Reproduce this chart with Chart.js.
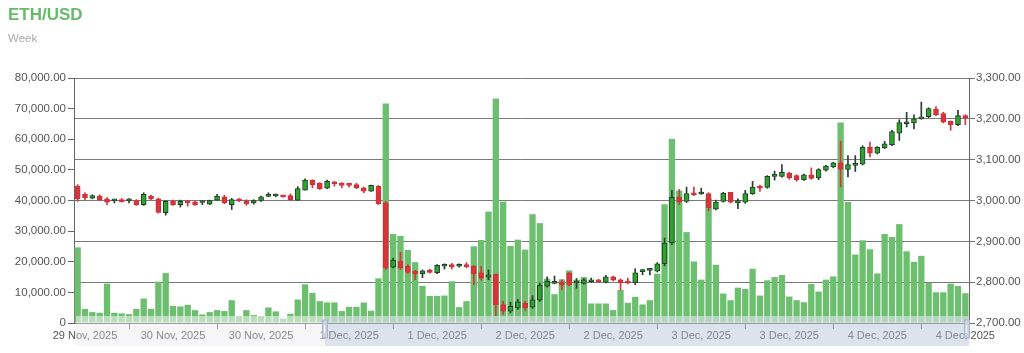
<!DOCTYPE html>
<html>
<head>
<meta charset="utf-8">
<script src="https://cdn.jsdelivr.net/npm/chart.js@4.4.1/dist/chart.umd.min.js"></script>
<style>
  html, body { margin: 0; padding: 0; background: #ffffff; }
  #wrap { position: relative; width: 1024px; height: 353px; overflow: hidden; }
  #c { position: absolute; left: 0; top: 0; }
  #title { position: absolute; left: 8px; top: 5px; font: bold 17px "Liberation Sans", Arial, sans-serif; line-height: 20px; color: #66bb6a; }
  #sub { position: absolute; left: 8px; top: 32px; font: 11.5px "Liberation Sans", Arial, sans-serif; line-height: 13px; color: #aaaaaa; }
</style>
</head>
<body>
<div id="wrap">
  <canvas id="c" width="1024" height="353"></canvas>
  <div id="title">ETH/USD</div>
  <div id="sub">Week</div>
</div>
<script>
// ---- categories (hourly candles) ----
const categories = [
  "29 Nov 17:00","29 Nov 18:00","29 Nov 19:00","29 Nov 20:00","29 Nov 21:00","29 Nov 22:00","29 Nov 23:00",
  "30 Nov 00:00","30 Nov 01:00","30 Nov 02:00","30 Nov 03:00","30 Nov 04:00","30 Nov 05:00","30 Nov 06:00","30 Nov 07:00","30 Nov 08:00","30 Nov 09:00","30 Nov 10:00","30 Nov 11:00",
  "30 Nov 12:00","30 Nov 13:00","30 Nov 14:00","30 Nov 15:00","30 Nov 16:00","30 Nov 17:00","30 Nov 18:00","30 Nov 19:00","30 Nov 20:00","30 Nov 21:00","30 Nov 22:00","30 Nov 23:00",
  "1 Dec 00:00","1 Dec 01:00","1 Dec 02:00","1 Dec 03:00","1 Dec 04:00","1 Dec 05:00","1 Dec 06:00","1 Dec 07:00","1 Dec 08:00","1 Dec 09:00","1 Dec 10:00","1 Dec 11:00",
  "1 Dec 12:00","1 Dec 13:00","1 Dec 14:00","1 Dec 15:00","1 Dec 16:00","1 Dec 17:00","1 Dec 18:00","1 Dec 19:00","1 Dec 20:00","1 Dec 21:00","1 Dec 22:00","1 Dec 23:00",
  "2 Dec 00:00","2 Dec 01:00","2 Dec 02:00","2 Dec 03:00","2 Dec 04:00","2 Dec 05:00","2 Dec 06:00","2 Dec 07:00","2 Dec 08:00","2 Dec 09:00","2 Dec 10:00","2 Dec 11:00",
  "2 Dec 12:00","2 Dec 13:00","2 Dec 14:00","2 Dec 15:00","2 Dec 16:00","2 Dec 17:00","2 Dec 18:00","2 Dec 19:00","2 Dec 20:00","2 Dec 21:00","2 Dec 22:00","2 Dec 23:00",
  "3 Dec 00:00","3 Dec 01:00","3 Dec 02:00","3 Dec 03:00","3 Dec 04:00","3 Dec 05:00","3 Dec 06:00","3 Dec 07:00","3 Dec 08:00","3 Dec 09:00","3 Dec 10:00","3 Dec 11:00",
  "3 Dec 12:00","3 Dec 13:00","3 Dec 14:00","3 Dec 15:00","3 Dec 16:00","3 Dec 17:00","3 Dec 18:00","3 Dec 19:00","3 Dec 20:00","3 Dec 21:00","3 Dec 22:00","3 Dec 23:00",
  "4 Dec 00:00","4 Dec 01:00","4 Dec 02:00","4 Dec 03:00","4 Dec 04:00","4 Dec 05:00","4 Dec 06:00","4 Dec 07:00","4 Dec 08:00","4 Dec 09:00","4 Dec 10:00","4 Dec 11:00",
  "4 Dec 12:00","4 Dec 13:00","4 Dec 14:00","4 Dec 15:00","4 Dec 16:00","4 Dec 17:00","4 Dec 18:00"
];

// ---- x-axis tick labels and tick marks ----
const xTickAt = ["29 Nov 18:00","30 Nov 06:00","30 Nov 18:00","1 Dec 06:00","1 Dec 18:00","2 Dec 06:00","2 Dec 18:00","3 Dec 06:00","3 Dec 18:00","4 Dec 06:00","4 Dec 18:00"];
const xTickLabels = ["29 Nov, 2025","30 Nov, 2025","30 Nov, 2025","1 Dec, 2025","1 Dec, 2025","2 Dec, 2025","2 Dec, 2025","3 Dec, 2025","3 Dec, 2025","4 Dec, 2025","4 Dec, 2025"];
const tickMarkAt = ["30 Nov 00:00","30 Nov 12:00","1 Dec 00:00","1 Dec 12:00","2 Dec 00:00","2 Dec 12:00","3 Dec 00:00","3 Dec 12:00","4 Dec 00:00","4 Dec 12:00"];

// ---- series: volume ----
const volume = [
  24700,4600,3560,3340,12850,3340,3130,2900,4600,8000,4600,13500,16300,5600,5400,5940,4210,2800,3560,4210,
  3890,7450,2270,4210,2590,2270,5070,3780,1400,3020,7670,12630,9820,7130,6700,6700,3890,5290,5290,6700,
  4000,14580,71680,29050,28400,23860,19860,12090,8850,8850,8960,13600,5180,7130,25050,27100,36380,73300,39620,25160,
  27210,23970,35530,32600,14470,9390,14250,17170,14150,15000,6370,6370,6370,4210,10790,6590,8530,6050,7450,16090,
  38760,60140,43300,29690,20080,14150,40700,19010,9610,7450,11550,11120,17710,8960,13930,15000,15650,8640,7450,6800,
  12740,10260,14150,15220,65430,39510,22350,26990,24080,16190,29050,28080,32290,23420,19970,21920,13050,10040,10040,12850,
  12090,9720
];

// ---- series: price (open / high / low / close) ----
const opens = [
  3035,3015,3006,3011,3004,2999,3002,2999,3000,2990,3011,3004,2970,2998,2990,2998,2997,2995,2991,3001,
  3009,2990,3003,2999,2994,3000,3010,3011,3011,3012,3001,3025,3050,3042,3030,3046,3042,3039,3039,3031,
  3023,3035,2994,2837,2851,2839,2827,2821,2829,2823,2839,2841,2839,2843,2839,2823,2812,2819,2745,2729,
  2737,2749,2739,2756,2790,2797,2801,2822,2798,2797,2801,2806,2800,2813,2806,2802,2798,2826,2829,2827,
  2845,2896,3008,2998,3018,3016,3017,2979,2998,3020,2994,2996,3017,3035,3032,3059,3059,3067,3061,3051,
  3063,3055,3074,3082,3092,3076,3086,3089,3130,3116,3129,3137,3165,3188,3190,3200,3205,3224,3213,3194,
  3186,3208
];
const highs = [
  3039,3019,3014,3014,3007,3003,3005,3005,3002,3019,3013,3006,3000,3001,3001,3000,2999,2998,3001,3015,
  3013,3005,3005,3002,3002,3011,3019,3016,3012,3016,3034,3053,3051,3044,3050,3047,3044,3040,3042,3033,
  3038,3037,2998,2859,2873,2843,2829,2830,2832,2843,2845,2846,2845,2848,2841,2839,2830,2820,2753,2751,
  2758,2753,2767,2798,2813,2815,2806,2824,2809,2809,2810,2807,2817,2815,2808,2810,2833,2831,2831,2848,
  2908,3025,3027,3033,3033,3030,3019,3001,3020,3020,3004,3025,3047,3038,3061,3072,3088,3069,3063,3065,
  3080,3078,3086,3094,3145,3110,3110,3134,3143,3132,3145,3172,3198,3216,3210,3241,3227,3230,3216,3195,
  3221,3210
];
const lows = [
  2998,3001,3004,3000,2990,2994,2996,2994,2988,2988,3002,2969,2964,2988,2984,2986,2988,2990,2990,3000,
  2992,2978,2997,2988,2991,2998,3009,3009,3008,3000,3000,3025,3031,3027,3029,3035,3031,3033,3029,3019,
  3022,2990,2831,2835,2831,2821,2806,2811,2822,2821,2832,2832,2837,2835,2794,2805,2806,2718,2721,2725,
  2733,2731,2736,2753,2788,2796,2781,2791,2785,2795,2800,2800,2798,2803,2781,2796,2794,2818,2818,2825,
  2840,2892,2990,2995,3012,3015,2975,2977,2996,2994,2980,2993,3015,3022,3030,3050,3057,3052,3047,3049,
  3052,3051,3072,3080,3033,3058,3071,3087,3107,3114,3127,3134,3147,3180,3175,3199,3203,3208,3190,3172,
  3183,3186
];
const closes = [
  3004,3007,3012,3002,2996,3001,2997,3000,2990,3015,3004,2971,2998,2990,2998,2994,2989,2996,3000,3011,
  2994,3002,2999,2992,3000,3009,3011,3012,3009,3002,3029,3050,3039,3029,3047,3041,3037,3037,3031,3023,
  3037,2992,2834,2854,2835,2824,2821,2828,2824,2841,2842,2838,2841,2838,2820,2810,2818,2745,2729,2741,
  2752,2737,2757,2792,2802,2800,2794,2793,2802,2806,2802,2801,2813,2805,2798,2798,2823,2828,2830,2845,
  2896,3008,2996,3017,3014,3017,2982,2996,3018,2996,3000,3017,3033,3030,3059,3061,3069,3055,3051,3063,
  3054,3076,3084,3092,3077,3088,3089,3131,3116,3130,3139,3169,3191,3191,3200,3205,3225,3210,3192,3186,
  3208,3202
];

// ---- styles ----
const VOL_COLOR = '#6cbf6e';
const UP_FILL = '#2ea22e', UP_LINE = '#1f3f24';
const DOWN_FILL = '#d8343c', DOWN_LINE = '#cf2f37';
const isUp = i => closes[i] >= opens[i];

const scrollbar = {
  id: 'scrollbar',
  afterDraw(chart) {
    const c = chart.ctx, a = chart.chartArea;
    const top = a.bottom - 7, h = 30, selX = 325;
    c.save();
    c.fillStyle = 'rgba(228,230,234,0.35)';
    c.fillRect(a.left + 2, top, selX - a.left - 2, h);
    c.fillStyle = 'rgba(180,192,214,0.45)';
    c.fillRect(selX, top, a.right - selX, h);
    c.fillStyle = 'rgba(255,255,255,0.35)';
    c.fillRect(a.left + 2, top, a.right - a.left - 2, 7);
    // grips
    [selX, a.right - 2].forEach(x => {
      c.fillStyle = '#c9d1e2';
      c.strokeStyle = '#a9b3c8';
      c.lineWidth = 1;
      c.beginPath();
      c.rect(x - 2.5, a.bottom - 3, 5, 18);
      c.fill(); c.stroke();
      c.strokeStyle = '#ffffff';
      c.beginPath();
      c.moveTo(x - 0.5, a.bottom + 2); c.lineTo(x - 0.5, a.bottom + 10);
      c.stroke();
    });
    c.restore();
  }
};

const fmt = v => Number(v).toLocaleString('en-US', { minimumFractionDigits: 2, maximumFractionDigits: 2 });
const FONT = { family: '"Liberation Sans", Arial, sans-serif', size: 11.5 };

new Chart(document.getElementById('c'), {
  type: 'bar',
  data: {
    labels: categories,
    datasets: [
      {
        label: 'Volume', data: volume, yAxisID: 'y',
        backgroundColor: VOL_COLOR, borderWidth: 0,
        barPercentage: 0.86, categoryPercentage: 1, grouped: false, order: 3
      },
      {
        label: 'Wick', data: lows.map((l, i) => [l, highs[i]]), yAxisID: 'y1',
        backgroundColor: ctx => isUp(ctx.dataIndex) ? '#2b3b33' : DOWN_FILL,
        borderWidth: 0, barThickness: 1, grouped: false, order: 2
      },
      {
        label: 'Body', data: opens.map((o, i) => [o, closes[i]]), yAxisID: 'y1',
        backgroundColor: ctx => isUp(ctx.dataIndex) ? UP_FILL : DOWN_FILL,
        borderColor: ctx => isUp(ctx.dataIndex) ? UP_LINE : DOWN_LINE,
        borderWidth: 1, borderSkipped: false, barThickness: 5, minBarLength: 2,
        grouped: false, order: 1
      }
    ]
  },
  options: {
    responsive: false,
    animation: false,
    devicePixelRatio: 1,
    layout: { padding: { top: 78, left: 0, right: 0, bottom: 0 } },
    plugins: { legend: { display: false }, tooltip: { enabled: false }, title: { display: false } },
    scales: {
      x: {
        type: 'category', offset: true,
        afterFit: s => { s.height = 30; },
        border: { display: false },
        grid: {
          display: true, drawOnChartArea: false, drawTicks: true, tickLength: 6, offset: false,
          color: ctx => tickMarkAt.includes(categories[ctx.index]) ? '#777777' : 'rgba(0,0,0,0)'
        },
        ticks: {
          autoSkip: false, maxRotation: 0, minRotation: 0, padding: 0,
          color: '#555555', font: { family: FONT.family, size: 11 },
          callback: (v, i) => { const k = xTickAt.indexOf(categories[i]); return k >= 0 ? xTickLabels[k] : ''; }
        }
      },
      y: {
        position: 'left', min: 0, max: 80000,
        afterFit: s => { s.width = 74; },
        border: { display: true, color: '#666666' },
        grid: { drawOnChartArea: false, drawTicks: true, tickLength: 6, color: '#666666' },
        ticks: { stepSize: 10000, padding: 2, color: '#555555', font: FONT, callback: v => v === 0 ? '0' : fmt(v) }
      },
      y1: {
        position: 'right', min: 2700, max: 3300,
        afterFit: s => { s.width = 55; },
        border: { display: true, color: '#666666' },
        grid: { drawOnChartArea: true, drawTicks: true, tickLength: 6, color: '#7a7a7a' },
        ticks: { stepSize: 100, padding: 1, color: '#555555', font: FONT, callback: v => fmt(v) }
      }
    }
  },
  plugins: [scrollbar]
});
</script>
</body>
</html>
